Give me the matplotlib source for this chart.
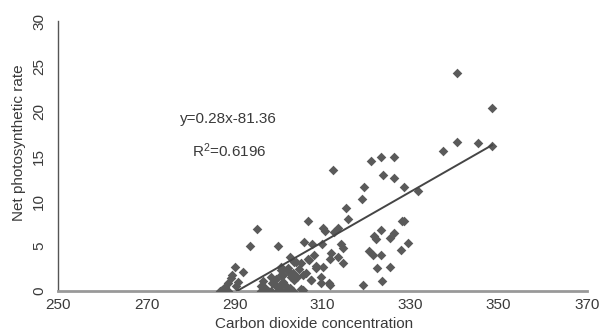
import numpy as np
import matplotlib
matplotlib.use("Agg")
import matplotlib.pyplot as plt

plt.rcParams['font.family'] = ['Liberation Sans', 'DejaVu Sans']

# CO2 concentration vs net photosynthetic rate
co2 = [340.5, 348.5, 340.5, 345.3, 348.5, 337.4, 331.7, 328.5, 321.0, 323.2,
       326.2, 312.3, 323.7, 326.2, 319.4, 318.9, 315.3, 315.7, 306.6, 295.2,
       310.2, 313.4, 312.5, 310.5,
       293.6, 299.8, 302.5, 305.7, 307.7, 309.8, 314.1, 314.6, 308.0, 311.8,
       322.1, 321.6, 326.2, 323.2, 328.0, 328.5, 325.3, 329.4, 327.8, 320.5,
       321.4, 323.2, 322.3, 325.3, 323.4, 319.1, 311.6, 311.6, 313.4, 314.6,
       306.8, 308.4, 310.0, 307.3, 309.6, 305.0, 305.5,
       290.2, 292.0, 289.5, 290.7, 289.1, 288.6, 287.9, 287.2, 286.8, 290.4,
       288.6,
       296.4, 298.2, 300.5, 302.1, 300.5, 301.1, 302.8, 303.6, 295.9, 297.5,
       299.8, 307.3, 308.4, 309.6, 311.4, 295.9, 297.0, 298.6, 299.3, 301.6,
       302.5, 303.2, 304.1, 304.6, 305.5, 303.6, 302.1, 299.3, 300.5, 305.0,
       306.2, 298.2, 300.5, 301.6, 303.2, 303.9, 306.6, 301.1, 300.5]
rate = [24.2, 20.4, 16.6, 16.4, 16.1, 15.6, 11.1, 11.6, 14.4, 14.9,
        14.9, 13.4, 12.9, 12.6, 11.6, 10.2, 9.2, 8.0, 7.8, 6.9,
        7.0, 7.0, 6.6, 6.7,
        5.0, 5.0, 3.8, 5.4, 5.2, 5.2, 5.2, 4.8, 4.0, 4.2,
        5.8, 6.1, 6.4, 6.8, 7.8, 7.8, 5.9, 5.3, 4.6, 4.4,
        4.0, 4.0, 2.6, 2.7, 1.1, 0.7, 0.7, 3.6, 3.8, 3.1,
        3.4, 2.8, 2.7, 1.2, 1.6, 0.2, 0.1,
        2.7, 2.1, 1.8, 1.0, 1.4, 0.9, 0.4, 0.1, 0.0, 0.6,
        0.0,
        1.1, 1.6, 2.7, 2.2, 1.8, 1.0, 1.6, 1.2, 0.0, 0.0,
        0.0, 1.2, 2.6, 0.9, 0.9, 0.5, 0.3, 0.9, 0.5, 0.6,
        0.3, 2.0, 1.5, 2.4, 1.8, 3.2, 2.5, 1.3, 0.8, 3.1,
        2.0, 0.0, 0.1, 0.0, 0.0, 3.2, 3.6, 1.8, 2.3]

slope, intercept = 0.28, -81.36
r2 = 0.6196
trend_x = [-intercept / slope, 348.5]

xticks = [250, 270, 290, 310, 330, 350, 370]
yticks = [0, 5, 10, 15, 20, 25, 30]

fig = plt.figure(figsize=(6.03, 3.36), dpi=100)
ax = fig.add_axes([0.097, 0.134, 0.876, 0.803])

ax.scatter(co2, rate, marker='D', s=24, color='#5a5a5a', linewidths=0, zorder=3)
tx = np.array(trend_x)
ax.plot(tx, slope * tx + intercept, color='#454545', lw=1.4, zorder=4)

ax.set_xlim(250, 370)
ax.set_ylim(0, 30)
ax.set_xticks(xticks)
ax.set_yticks(yticks)
ax.tick_params(axis='both', length=0, labelsize=11, colors='#3a3a3a')
ax.tick_params(axis='x', pad=5)
ax.tick_params(axis='y', pad=9)
plt.setp(ax.get_yticklabels(), rotation=90, va='center')

for s in ['top', 'right']:
    ax.spines[s].set_visible(False)
ax.spines['left'].set_color('#555555')
ax.spines['left'].set_linewidth(1.0)
ax.spines['bottom'].set_color('#999999')
ax.spines['bottom'].set_linewidth(2.0)

ax.set_xlabel('Carbon dioxide concentration', fontsize=11, color='#3a3a3a')
ax.set_ylabel('Net photosynthetic rate', fontsize=11, color='#3a3a3a')
ax.xaxis.set_label_coords(0.483, -0.095)
ax.yaxis.set_label_coords(-0.062, 0.55)

ax.text(288.7, 19.1, 'y=0.28x-81.36', fontsize=11, color='#3a3a3a', ha='center', va='center')
ax.text(288.7, 15.6, '$\\mathregular{R^2}$=%.4f' % r2, fontsize=11, color='#3a3a3a',
        ha='center', va='center')

fig.savefig('out.png', dpi=100)
